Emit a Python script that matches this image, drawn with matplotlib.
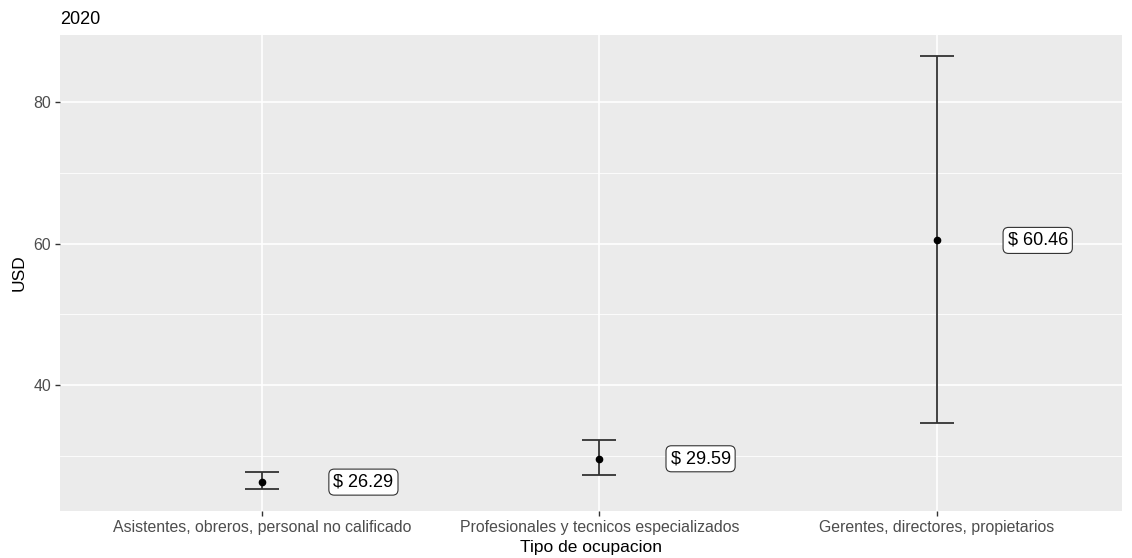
import matplotlib
matplotlib.use("Agg")
import matplotlib.pyplot as plt
import numpy as np

categories = ["Asistentes, obreros, personal no calificado",
              "Profesionales y tecnicos especializados",
              "Gerentes, directores, propietarios"]
means = [26.29, 29.59, 60.46]
lower = [25.31, 27.29, 34.6]
upper = [27.67, 32.23, 86.5]
yticks = [40, 60, 80]
minor_ticks = [30, 50, 70]

plt.rcParams['font.family'] = ['Liberation Sans', 'DejaVu Sans']

fig = plt.figure(figsize=(11.32, 5.58), dpi=100)
ax = fig.add_axes([60/1132, 1-510.7/558, (1122-60)/1132, (510.7-35)/558])
ax.set_facecolor('#EBEBEB')
for s in ax.spines.values():
    s.set_visible(False)

x = np.arange(1, len(categories)+1)
means_a = np.array(means)
yerr = [means_a - np.array(lower), np.array(upper) - means_a]
ax.errorbar(x, means, yerr=yerr, fmt='o', color='black', ecolor='#333333',
            elinewidth=1.3, capsize=12.3, capthick=1.3, markersize=4.5, zorder=3)

for xi, m in zip(x, means):
    ax.text(xi + 0.3, m, f"$ {m:.2f}", ha='center', va='center', fontsize=13,
            color='black',
            bbox=dict(boxstyle='round,pad=0.25,rounding_size=0.3', fc='white',
                      ec='#333333', lw=0.8), zorder=4)

ax.set_xlim(0.40, 3.55)
ax.set_ylim(22.25, 89.5)
ax.set_xticks(x)
ax.set_xticklabels(categories)
ax.set_yticks(yticks)
ax.set_yticks(minor_ticks, minor=True)
ax.grid(True, which='major', color='white', linewidth=1.2, zorder=0)
ax.grid(True, which='minor', axis='y', color='white', linewidth=0.6, zorder=0)
ax.set_axisbelow(True)
ax.tick_params(axis='both', which='major', length=3.5, width=1.0, color='#333333',
               labelcolor='#4D4D4D', labelsize=11.4, pad=3)
ax.tick_params(axis='y', which='minor', length=0)
ax.set_xlabel("Tipo de ocupacion", fontsize=12.5, color='black', labelpad=4)
ax.set_ylabel("USD", fontsize=12.5, color='black', labelpad=5)
fig.text(60/1132, 1-19/558, "2020", fontsize=13, ha='left', va='center', color='black')

fig.savefig("out.png", dpi=100)
